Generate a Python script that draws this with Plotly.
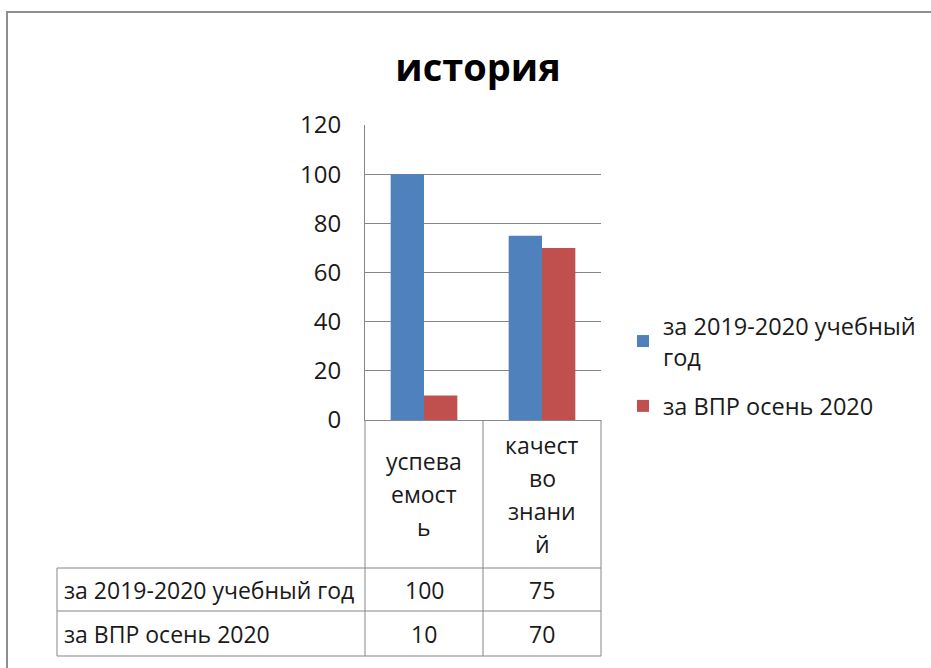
import plotly.graph_objects as go

# ---------------- data ----------------
title_text = "история"
categories = ["успеваемость", "качество знаний"]
header_labels = [["успева", "емост", "ь"], ["качест", "во", "знани", "й"]]
series_names = ["за 2019-2020 учебный год", "за ВПР осень 2020"]
legend_names = ["за 2019-2020 учебный<br>год", "за ВПР осень 2020"]
values_2019_2020 = [100, 75]
values_vpr_2020 = [10, 70]
series_values = [values_2019_2020, values_vpr_2020]
colors = ["#4F81BD", "#C0504D"]
y_ticks = [0, 20, 40, 60, 80, 100, 120]

# ---------------- layout geometry (pixels) ----------------
W, H = 931, 668
PL, PR, PT, PB = 365, 601, 125, 420  # plot area edges
pw, ph = PR - PL, PB - PT
FONT = "Open Sans"
FS_TABLE = 23
FS_TICK = 24
FS_LEG = 23.5
GRID = "#868686"
TXT = "#1a1a1a"


def px(x):
    return (x - PL) / pw


def py(y):
    return (PB - y) / ph


fig = go.Figure()
for i, (lname, vals, col) in enumerate(zip(legend_names, series_values, colors)):
    fig.add_trace(go.Bar(x=categories, y=vals, name=lname, marker_color=col,
                         marker_line_width=0, legendgroup="g%d" % i))

shapes = []
line = dict(color=GRID, width=1)
# table grid
table_top, row1_top, row2_top, table_bottom = 420, 568, 611, 656
table_left = 57
col_edges = [PL, (PL + PR) / 2, PR]
for xe in col_edges:
    shapes.append(dict(type="line", xref="paper", yref="paper",
                       x0=px(xe), x1=px(xe), y0=py(table_top), y1=py(table_bottom), line=line))
shapes.append(dict(type="line", xref="paper", yref="paper",
                   x0=px(table_left), x1=px(table_left), y0=py(row1_top), y1=py(table_bottom), line=line))
for yy in [row1_top, row2_top, table_bottom]:
    shapes.append(dict(type="line", xref="paper", yref="paper",
                       x0=px(table_left), x1=px(PR), y0=py(yy), y1=py(yy), line=line))
# outer chart border
shapes.append(dict(type="rect", xref="paper", yref="paper",
                   x0=px(7), x1=px(960), y0=py(12), y1=py(700),
                   line=dict(color="#8f8f8f", width=2), layer="below"))

annotations = []
# header (category) labels
header_center = (table_top + row1_top) / 2
line_h = 33
for cat, lines in zip(categories, header_labels):
    n = len(lines)
    for i, t in enumerate(lines):
        yc = header_center + (i - (n - 1) / 2) * line_h
        annotations.append(dict(x=cat, xref="x", y=py(yc), yref="paper", text=t,
                                showarrow=False, xanchor="center", yanchor="middle",
                                font=dict(family=FONT, size=FS_TABLE, color=TXT)))
# row labels and values
row_centers = [(row1_top + row2_top) / 2, (row2_top + table_bottom) / 2]
for name, vals, yc in zip(series_names, series_values, row_centers):
    annotations.append(dict(x=px(table_left + 5), xref="paper", y=py(yc), yref="paper",
                            text=name, showarrow=False, xanchor="left", yanchor="middle",
                            font=dict(family=FONT, size=FS_TABLE, color=TXT)))
    for cat, v in zip(categories, vals):
        annotations.append(dict(x=cat, xref="x", y=py(yc), yref="paper", text=str(v),
                                showarrow=False, xanchor="center", yanchor="middle",
                                font=dict(family=FONT, size=FS_TABLE, color=TXT)))

fig.update_layout(
    width=W, height=H,
    margin=dict(l=PL, r=W - PR, t=PT, b=H - PB, pad=0, autoexpand=False),
    paper_bgcolor="white", plot_bgcolor="white",
    title=dict(text="<b>" + title_text + "</b>", x=478 / W, xanchor="center",
               y=1 - 68 / H, yanchor="middle", yref="container",
               font=dict(family=FONT, size=38, color="black")),
    barmode="group", bargap=0.435, bargroupgap=0,
    xaxis=dict(showticklabels=False, showgrid=False, showline=True, linecolor=GRID,
               linewidth=1, ticks="", fixedrange=True),
    yaxis=dict(range=[0, 120], tickvals=y_ticks, showgrid=True, gridcolor=GRID,
               gridwidth=1, showline=True, linecolor=GRID, linewidth=1, ticks="",
               ticklabelstandoff=18, zeroline=False,
               tickfont=dict(family=FONT, size=FS_TICK, color=TXT)),
    legend=dict(x=px(623), xanchor="left", y=py(304), yanchor="top",
                font=dict(family=FONT, size=FS_LEG, color=TXT),
                tracegroupgap=16, bgcolor="rgba(0,0,0,0)"),
    shapes=shapes, annotations=annotations,
    font=dict(family=FONT),
)

fig.write_html("out.html", config={"displayModeBar": False},
               post_script="document.body.style.margin='0';document.body.style.overflow='hidden';")
